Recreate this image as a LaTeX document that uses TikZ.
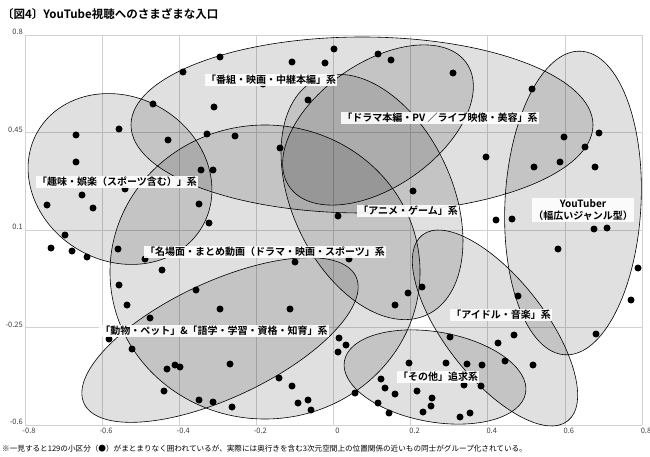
\documentclass[tikz,border=0pt]{standalone}
\usepackage{fontspec}
\setmainfont{Noto Sans CJK JP}
\newfontfamily\jpb{Noto Sans CJK JP Bold}
\begin{document}
\begin{tikzpicture}[x=1pt,y=-1pt,
  grp/.style={draw=black,line width=0.6pt,fill=black,fill opacity=0.12},
  lbl/.style={fill=white,fill opacity=0.9,text opacity=1,inner sep=1.2pt,font=\jpb\fontsize{10}{12}\selectfont,align=center},
  ax/.style={font=\fontsize{7.5}{9}\selectfont,text=black!75,inner sep=0pt},
  dot/.style={circle,fill=black,inner sep=0pt,minimum size=7pt}]
\useasboundingbox (0,0) rectangle (650,457);
\fill[white] (0,0) rectangle (650,457);
\node[anchor=west,inner sep=0pt,font=\jpb\fontsize{11.5}{13}\selectfont] (title) at (2,14) {〔図4〕YouTube視聴へのさまざまな入口};
% grid
\foreach \i in {0,...,8}{\draw[black!18,line width=0.6pt] ({25+77.125*\i},35) -- ({25+77.125*\i},425);}
\foreach \yy in {35,132.5,230,327.5,425}{\draw[black!18,line width=0.6pt] (25,\yy) -- (642,\yy);}
\foreach \yy/\t in {35/0.8,132.5/0.45,230/0.1,327.5/-0.25,425/-0.6}{\node[ax,anchor=east] at (23,\yy-3) {\t};}
\foreach \i/\t in {0/-0.8,1/-0.6,2/-0.4,3/-0.2,4/0,5/0.2,6/0.4,7/0.6,8/0.8}{\node[ax,anchor=north] at ({29+77.125*\i},428) {\t};}
% ellipses
\path[grp] (362,125) ellipse [x radius=231,y radius=88];
\path[grp,rotate around={-30:(120,179)}] (120,179) ellipse [x radius=95,y radius=82];
\path[grp,rotate around={35:(378,125)}] (378,125) ellipse [x radius=108,y radius=62];
\path[grp,rotate around={-65:(372,197)}] (372,197) ellipse [x radius=130,y radius=80];
\path[grp] (265,272) ellipse [x radius=155,y radius=147];
\path[grp,rotate around={25:(220,340)}] (220,340) ellipse [x radius=150,y radius=58];
\path[grp,rotate around={-10:(435,377)}] (435,377) ellipse [x radius=92,y radius=45];
\path[grp,rotate around={-52:(495,328)}] (495,328) ellipse [x radius=118,y radius=50];
\path[grp,rotate around={-93:(573,203)}] (573,203) ellipse [x radius=152,y radius=68];
% dots
\foreach \p [count=\n] in {(220,57),(292,62),(183,72),(153,104),(214,107),(308,100),(263,84),(119,129),(76,135),(168,140),(207,134),(235,136),(280,148),(76,162),(201,170),(213,170),(125,189),(82,195),(47,205),(93,208),(199,204),(209,223),(325,63),
(334,49),(378,54),(391,60),(453,73),(532,89),(599,133),(564,137),(585,147),(486,157),(534,167),(560,162),(595,167),(413,191),(338,216),(496,220),(512,219),(594,229),(607,228),
(65,235),(51,248),(72,251),(87,257),(118,249),(145,259),(162,270),(295,262),(119,285),(196,290),(127,305),(220,309),(290,309),(150,318),(109,339),(132,349),(175,365),(180,367),(167,369),(230,364),(279,378),(292,386),(164,391),(199,400),(213,402),(232,407),(298,403),(308,400),(311,410),
(349,259),(558,249),(638,268),(422,287),(408,293),(395,305),(518,296),(631,300),(596,334),(514,335),(450,337),(339,338),(346,345),(338,352),(498,343),(409,363),(446,363),(467,364),(482,365),(505,361),(533,365),(381,379),(464,385),(481,386),(385,388),(355,393),(395,394),(417,391),(432,398),(431,406),(378,403),(389,413),(423,412),(460,417),(470,413)}
{\node[dot] (d\n) at \p {};}
% labels
\node[lbl] (l1) at (271,80) {「番組・映画・中継本編」系};
\node[lbl] (l2) at (440,118) {「ドラマ本編・PV ／ライブ映像・美容」系};
\node[lbl] (l3) at (117,182) {「趣味・娯楽（スポーツ含む）」系};
\node[lbl] (l4) at (408,211) {「アニメ・ゲーム」系};
\node[lbl] (l5) at (583,210) {YouTuber\\（幅広いジャンル型）};
\node[lbl] (l6) at (265,252) {「名場面・まとめ動画（ドラマ・映画・スポーツ」系};
\node[lbl] (l7) at (214,331) {「動物・ペット」\&「語学・学習・資格・知育」系};
\node[lbl] (l8) at (501,315) {「アイドル・音楽」系};
\node[lbl] (l9) at (438,377) {「その他」追求系};
\node[anchor=west,inner sep=0pt,font=\fontsize{7.6}{9}\selectfont] (note) at (2,449) {※一見すると129の小区分（●）がまとまりなく囲われているが、実際には奥行きを含む3次元空間上の位置関係の近いもの同士がグループ化されている。};
\end{tikzpicture}
\end{document}
